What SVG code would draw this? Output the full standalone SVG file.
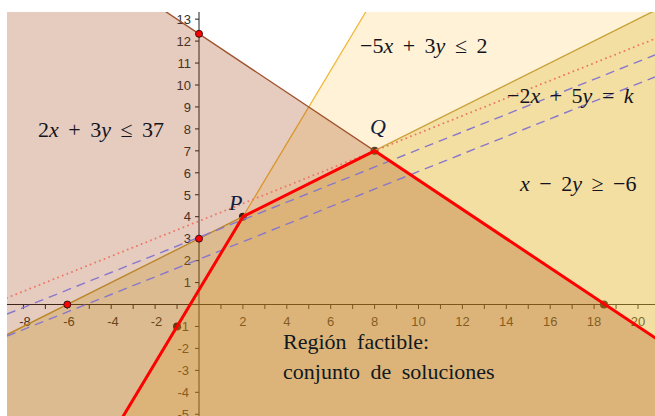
<svg xmlns="http://www.w3.org/2000/svg" width="655" height="416" viewBox="0 0 655 416">
<style>
.ax{stroke:#202020;stroke-width:1;fill:none}
.tl{font-family:"Liberation Sans",Arial,sans-serif;font-size:13px;fill:#303030}
.m{font-family:"Liberation Serif","Times New Roman",serif;font-size:22px;fill:#141420;word-spacing:4px}
.i{font-style:italic}
.t{font-family:"Liberation Serif","Times New Roman",serif;font-size:22px;fill:#101820;word-spacing:5px}
.dk{fill:#1e1a18}
.rd{fill:#ff0000;stroke:#3a1010;stroke-width:1}
</style>
<defs>
<clipPath id="plot"><rect x="7" y="12" width="648" height="404"/></clipPath>
</defs>
<rect x="0" y="0" width="655" height="416" fill="#ffffff"/>
<g id="plot-area" clip-path="url(#plot)">
<g id="axes">
<path class="ax" d="M7 304.5H655M199 12V416"/>
<path class="ax" d="M23.4 304.5v4.5M45.35 304.5v4.5M67.3 304.5v4.5M89.25 304.5v4.5M111.2 304.5v4.5M133.15 304.5v4.5M155.1 304.5v4.5M177.05 304.5v4.5M220.95 304.5v4.5M242.9 304.5v4.5M264.85 304.5v4.5M286.8 304.5v4.5M308.75 304.5v4.5M330.7 304.5v4.5M352.65 304.5v4.5M374.6 304.5v4.5M396.55 304.5v4.5M418.5 304.5v4.5M440.45 304.5v4.5M462.4 304.5v4.5M484.35 304.5v4.5M506.3 304.5v4.5M528.25 304.5v4.5M550.2 304.5v4.5M572.15 304.5v4.5M594.1 304.5v4.5M616.05 304.5v4.5M638 304.5v4.5"/>
<path class="ax" d="M195 414.25h4M195 392.3h4M195 370.35h4M195 348.4h4M195 326.45h4M195 282.55h4M195 260.6h4M195 238.65h4M195 216.7h4M195 194.75h4M195 172.8h4M195 150.85h4M195 128.9h4M195 106.95h4M195 85h4M195 63.05h4M195 41.1h4M195 19.15h4"/>
<g class="tl" text-anchor="middle">
<text x="25" y="326">-8</text><text x="69" y="326">-6</text><text x="113" y="326">-4</text><text x="156.5" y="326">-2</text>
<text x="242.9" y="326">2</text><text x="286.8" y="326">4</text><text x="330.7" y="326">6</text><text x="374.6" y="326">8</text>
<text x="418.5" y="326">10</text><text x="462.4" y="326">12</text><text x="506.3" y="326">14</text><text x="550.2" y="326">16</text>
<text x="594.1" y="326">18</text><text x="638" y="326">20</text>
</g>
<g class="tl" text-anchor="end">
<text x="191" y="23.9">13</text><text x="191" y="45.8">12</text><text x="191" y="67.8">11</text><text x="191" y="89.7">10</text>
<text x="191" y="111.7">9</text><text x="191" y="133.6">8</text><text x="191" y="155.6">7</text><text x="191" y="177.5">6</text>
<text x="191" y="199.5">5</text><text x="191" y="221.4">4</text><text x="191" y="243.4">3</text><text x="191" y="265.3">2</text>
<text x="191" y="287.3">1</text>
<text x="189" y="331.2">-1</text><text x="189" y="353.1">-2</text><text x="189" y="375.1">-3</text><text x="189" y="397">-4</text><text x="189" y="419">-5</text>
</g>
</g>
<g id="dark-points">
<circle class="dk" cx="242.9" cy="216.7" r="4"/>
<circle class="dk" cx="374.6" cy="150.85" r="4"/>
<circle class="dk" cx="604" cy="304.5" r="4"/>
<circle class="dk" cx="177.05" cy="326.45" r="4"/>
</g>
<g id="half-planes">
<polygon points="365.7,12 655,12 655,416 123.3,416" fill="#ffcc5a" fill-opacity="0.25"/>
<line x1="375" y1="-3.5" x2="115" y2="430" stroke="#f2b535" stroke-width="1.2"/>
<polygon points="7,334.65 652.3,12 655,12 655,416 7,416" fill="#d1a606" fill-opacity="0.25"/>
<line x1="-10" y1="343.1" x2="670" y2="3" stroke="#c9a23a" stroke-width="1.4"/>
<polygon points="7,12 166.3,12 655,337.8 655,416 7,416" fill="#993300" fill-opacity="0.25"/>
<line x1="155" y1="4.5" x2="670" y2="347.8" stroke="#a0522d" stroke-width="1.4"/>
</g>
<g id="objective-lines">
<line x1="7" y1="297.9" x2="655" y2="38.7" stroke="#ee7766" stroke-width="2" stroke-dasharray="0 5" stroke-linecap="round"/>
<line x1="7" y1="314.1" x2="655" y2="54.9" stroke="#8877cc" stroke-width="1.4" stroke-dasharray="9 6"/>
<line x1="7" y1="336.1" x2="655" y2="76.9" stroke="#8877cc" stroke-width="1.4" stroke-dasharray="9 6"/>
</g>
<g id="feasible-boundary">
<polyline points="120,421.5 242.9,216.7 374.6,150.85 670,347.8" fill="none" stroke="#ff0000" stroke-width="3" stroke-linejoin="round"/>
</g>
<g id="red-points">
<circle class="rd" cx="199" cy="33.8" r="3.5"/>
<circle class="rd" cx="199" cy="238.65" r="3.5"/>
<circle class="rd" cx="67.3" cy="304.5" r="3.5"/>
</g>
</g>
<g id="labels">
<text class="m" x="38" y="137">2<tspan class="i">x</tspan> + 3<tspan class="i">y</tspan> ≤ 37</text>
<text class="m" x="360" y="53">−5<tspan class="i">x</tspan> + 3<tspan class="i">y</tspan> ≤ 2</text>
<text class="m" x="507" y="103">−2<tspan class="i">x</tspan> + 5<tspan class="i">y</tspan> = <tspan class="i">k</tspan></text>
<text class="m" x="520" y="190.5"><tspan class="i">x</tspan> − 2<tspan class="i">y</tspan> ≥ −6</text>
<text class="m i" x="229" y="210" style="fill:#102040">P</text>
<text class="m i" x="370" y="134" style="fill:#102040">Q</text>
<text class="t" x="283" y="349">Región factible:</text>
<text class="t" x="283" y="379">conjunto de soluciones</text>
</g>
</svg>
